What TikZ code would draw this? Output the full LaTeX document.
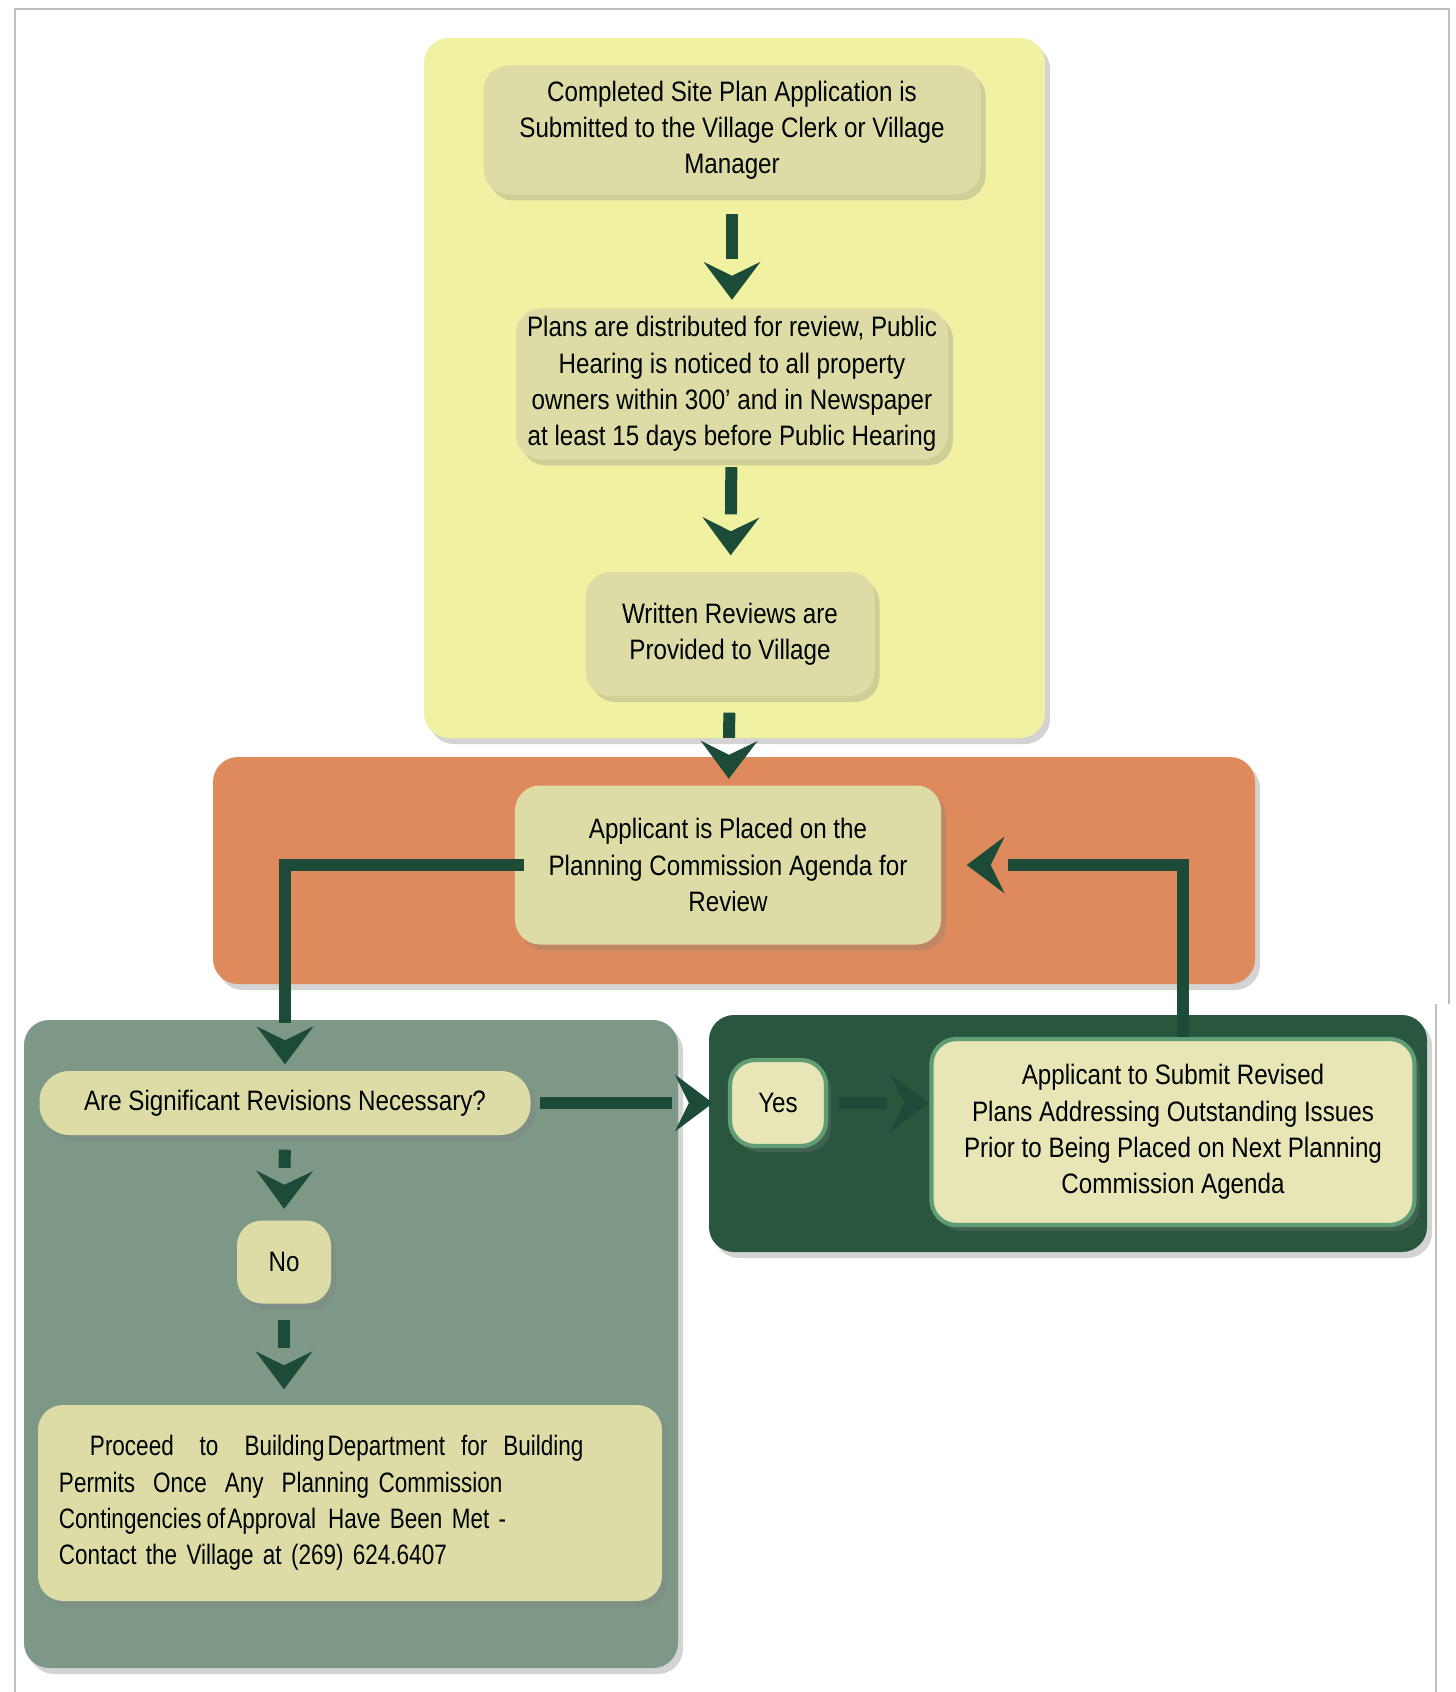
\documentclass[tikz,border=0pt]{standalone}
\usepackage{fontspec}
\setmainfont{Liberation Sans}[FakeStretch=0.86]
\newfontfamily\narrowfont{Liberation Sans}[FakeStretch=0.8]
\usetikzlibrary{arrows.meta,shadows}
\definecolor{paneyellow}{RGB}{240,242,162}
\definecolor{paneorange}{RGB}{222,138,92}
\definecolor{panegrey}{RGB}{126,152,136}
\definecolor{panegreen}{RGB}{40,86,62}
\definecolor{boxcream}{RGB}{222,220,166}
\definecolor{glowcream}{RGB}{232,230,182}
\definecolor{flowgreen}{RGB}{28,76,56}
\definecolor{glowgreen}{RGB}{96,156,116}

\begin{document}
\begin{tikzpicture}[
  panel/.style={rounded corners=0.25cm, drop shadow={shadow xshift=0.05cm, shadow yshift=-0.06cm, opacity=0.35}},
  stepbox/.style={fill=boxcream, rounded corners=0.25cm, align=center, inner sep=0pt, font=\fontsize{8}{10.3}\selectfont, drop shadow={shadow xshift=0.05cm, shadow yshift=-0.06cm, opacity=0.3}},
  glowbox/.style={stepbox, fill=glowcream, draw=glowgreen, line width=1.2pt},
  flow/.style={draw=flowgreen, line width=0.12cm, line join=miter, shorten <=0.12cm, shorten >=#1+0.41cm,
    postaction={draw=flowgreen, line width=0.01pt, line cap=butt, dash pattern=on 0pt off 30cm, shorten >=#1,
      -{Stealth[length=0.38cm, width=0.57cm, inset=0.14cm, line width=0pt]}}},
  flow/.default=0.08cm
]
\useasboundingbox (0,0) rectangle (14.55,-16.92);

% page frame
\draw[gray!50, line width=0.4pt] (0.15,-16.92) -- (0.15,-0.09) -- (14.49,-0.09) -- (14.49,-10.04);
\draw[gray!50, line width=0.4pt] (14.36,-10.04) -- (14.36,-16.92);

% coloured panels
\fill[paneyellow, panel] (4.24,-0.38) rectangle (10.45,-7.38);
\fill[paneorange, panel] (2.13,-7.57) rectangle (12.55,-9.84);
\fill[panegrey, panel] (0.24,-10.20) rectangle (6.78,-16.68);
\fill[panegreen, panel] (7.09,-10.15) rectangle (14.27,-12.52);

% steps
\node[stepbox, minimum width=4.97cm, minimum height=1.29cm] (submit) at (7.32,-1.30)
  {Completed Site Plan Application is\\Submitted to the Village Clerk or Village\\Manager};
\node[stepbox, minimum width=4.32cm, minimum height=1.51cm] (plans) at (7.32,-3.84)
  {Plans are distributed for review, Public\\Hearing is noticed to all property\\owners within 300' and in Newspaper\\at least 15 days before Public Hearing};
\node[stepbox, minimum width=2.89cm, minimum height=1.24cm] (written) at (7.30,-6.34)
  {Written Reviews are\\Provided to Village};
\node[stepbox, minimum width=4.26cm, minimum height=1.59cm] (placed) at (7.28,-8.65)
  {Applicant is Placed on the\\Planning Commission Agenda for\\Review};
\node[stepbox, rounded corners=0.3cm, minimum width=4.91cm, minimum height=0.64cm] (quest) at (2.85,-11.03)
  {Are Significant Revisions Necessary?};
\node[glowbox, minimum width=0.96cm, minimum height=0.86cm] (yes) at (7.78,-11.03) {Yes};
\node[glowbox, minimum width=4.83cm, minimum height=1.86cm] (revise) at (11.73,-11.32)
  {Applicant to Submit Revised\\Plans Addressing Outstanding Issues\\Prior to Being Placed on Next Planning\\Commission Agenda};
\node[stepbox, minimum width=0.94cm, minimum height=0.83cm] (no) at (2.84,-12.62) {No};
\node[stepbox, minimum width=6.24cm, minimum height=1.96cm, text width=5.82cm, align=left,
  font=\narrowfont\fontsize{8}{10.3}\selectfont] (proceed) at (3.50,-15.03)
  {\hspace*{0.31cm}Proceed\hspace{0.26cm}to\hspace{0.26cm}Building\hspace{0.03cm}Department\hspace{0.16cm}for\hspace{0.16cm}Building\\
   Permits\hspace{0.18cm}Once\hspace{0.18cm}Any\hspace{0.18cm}Planning Commission\\
   Contingencies\hspace{0.05cm}of\hspace{0.02cm}Approval\hspace{0.12cm}Have Been Met -\\
   Contact the Village at (269) 624.6407};

% connectors
\draw[flow=0.08cm, shorten <=0.19cm] (submit) -- (plans);
\draw[flow=0.16cm, shorten <=0.07cm] (plans) -- (written);
\draw[flow=0.06cm, shorten <=0.16cm] (written) -- (placed);
\draw[flow=0.06cm, shorten <=-0.1cm] (placed.west) -| (quest.north);
\draw[flow=0.25cm, shorten <=0cm] ([xshift=0.1cm]revise.north) |- (placed.east);
\draw[flow=0.15cm, shorten <=0.09cm] (quest.east) -- (yes.west);
\draw[flow=0.01cm, shorten <=0.11cm] (yes.east) -- (yes.east -| revise.west);
\draw[flow=0.11cm, shorten <=0.14cm] (quest.south) -- (no.north);
\draw[flow=0.15cm, shorten <=0.16cm] (no.south) -- (no.south |- proceed.north);
\end{tikzpicture}
\end{document}
